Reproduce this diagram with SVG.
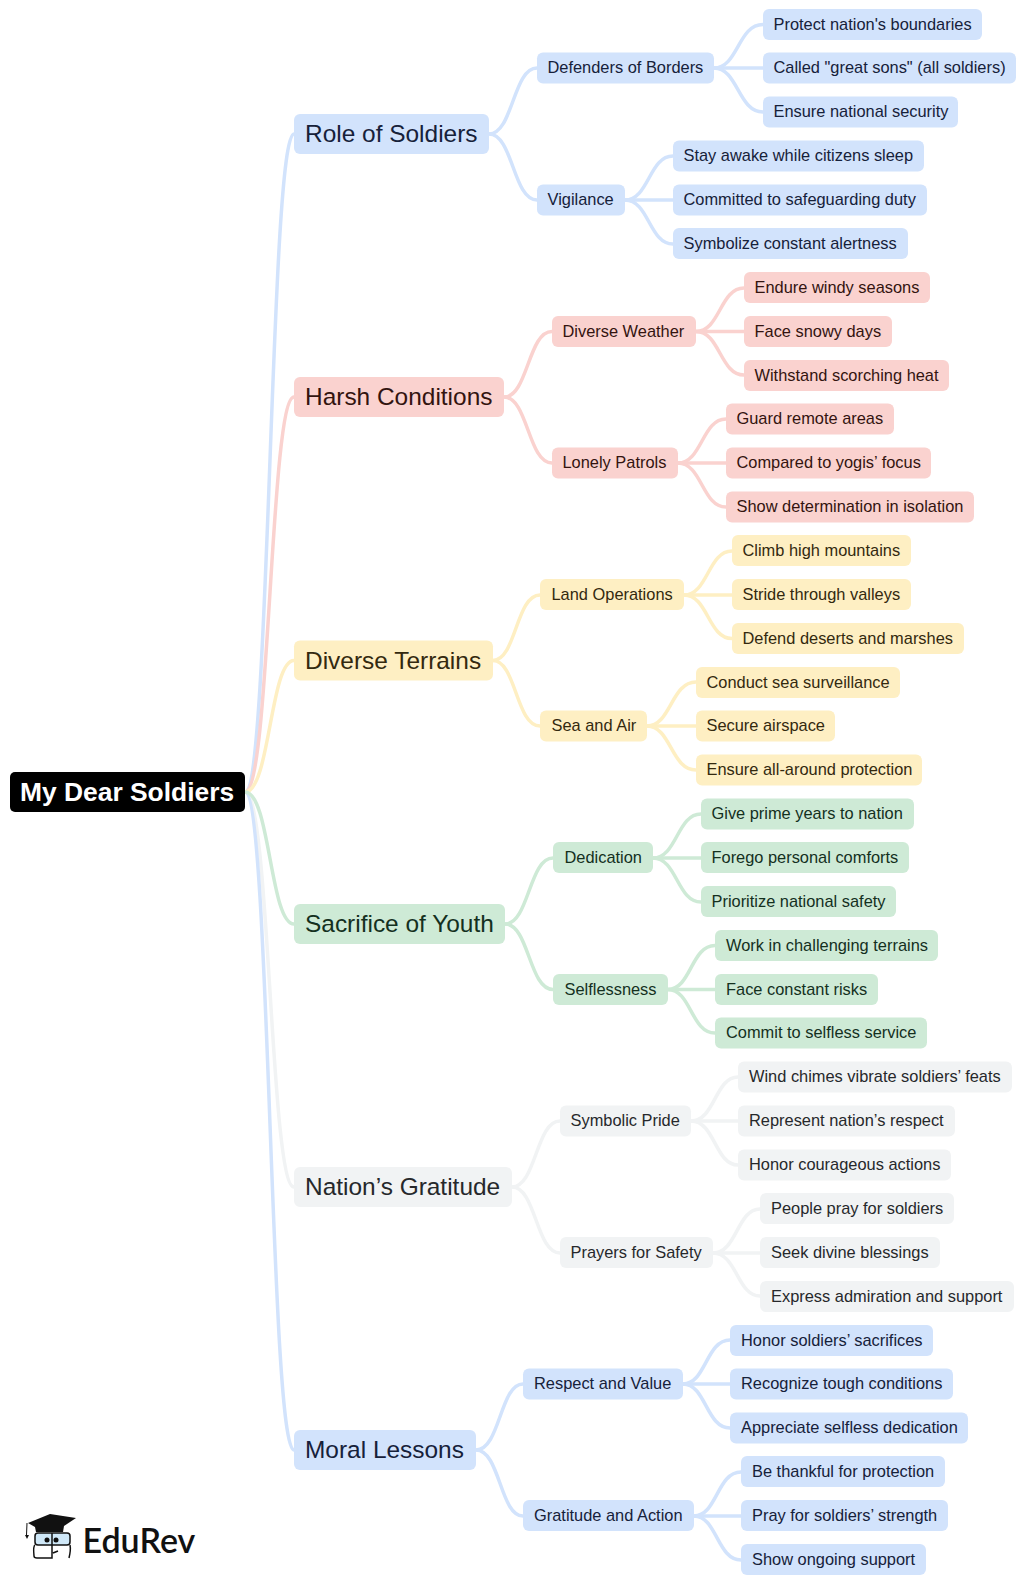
<svg xmlns="http://www.w3.org/2000/svg" width="1024" height="1584" viewBox="0 0 1024 1584">
<style>
text{font-family:"Liberation Sans",Arial,sans-serif}
.c path{fill:none;stroke-width:3.5;stroke-linecap:round}
.l text,.m text{font-size:16.4px;transform:translate(-.5px,-.5px)}
.t text{font-size:24.45px;transform:translateY(-.5px)}
.blue rect{fill:#d2e3fc}.blue text{fill:#16213a}
.red rect{fill:#fad2cf}.red text{fill:#33140f}
.yel rect{fill:#feefc3}.yel text{fill:#33290f}
.grn rect{fill:#ceead6}.grn text{fill:#14301e}
.gry rect{fill:#f1f3f4}.gry text{fill:#26282b}
.sb{stroke:#d2e3fc}.sr{stroke:#fad2cf}.sy{stroke:#feefc3}.sg{stroke:#ceead6}.sa{stroke:#f1f3f4}
</style>
<g id="connectors" class="c">
<g class="sa"><path d="M245 792C270 792 270 1187 294 1187"/><path d="M512 1187C536 1187 536 1121 560 1121"/><path d="M512 1187C536 1187 536 1253 560 1253"/><path d="M691 1121C715 1121 715 1077 738 1077"/><path d="M691 1121H738"/><path d="M691 1121C715 1121 715 1165 738 1165"/><path d="M713 1253C737 1253 737 1209 760 1209"/><path d="M713 1253H760"/><path d="M713 1253C737 1253 737 1296 760 1296"/></g>
<g class="sb"><path d="M245 792C270 792 270 134 294 134"/><path d="M245 792C270 792 270 1450 294 1450"/><path d="M489 134C513 134 513 68 537 68"/><path d="M489 134C513 134 513 200 537 200"/><path d="M714 68C738 68 738 24.500 763 24.500"/><path d="M714 68H763"/><path d="M714 68C738 68 738 112 763 112"/><path d="M625 200C649 200 649 156 673 156"/><path d="M625 200H673"/><path d="M625 200C649 200 649 244 673 244"/><path d="M476 1450C500 1450 500 1384 523 1384"/><path d="M476 1450C500 1450 500 1516 523 1516"/><path d="M683 1384C706 1384 706 1340 730 1340"/><path d="M683 1384H730"/><path d="M683 1384C706 1384 706 1428 730 1428"/><path d="M694 1516C717 1516 717 1472 741 1472"/><path d="M694 1516H741"/><path d="M694 1516C717 1516 717 1560 741 1560"/></g>
<g class="sr"><path d="M245 792C270 792 270 397 294 397"/><path d="M504 397C528 397 528 331.500 552 331.500"/><path d="M504 397C528 397 528 463 552 463"/><path d="M696 331.500C720 331.500 720 288 744 288"/><path d="M696 331.500H744"/><path d="M696 331.500C720 331.500 720 375 744 375"/><path d="M678 463C702 463 702 419 726 419"/><path d="M678 463H726"/><path d="M678 463C702 463 702 507 726 507"/></g>
<g class="sy"><path d="M245 792C270 792 270 660.500 294 660.500"/><path d="M493 660.500C516 660.500 516 595 540 595"/><path d="M493 660.500C516 660.500 516 726 540 726"/><path d="M684 595C708 595 708 551 732 551"/><path d="M684 595H732"/><path d="M684 595C708 595 708 638.500 732 638.500"/><path d="M647 726C671 726 671 682 696 682"/><path d="M647 726H696"/><path d="M647 726C671 726 671 770 696 770"/></g>
<g class="sg"><path d="M245 792C270 792 270 924 294 924"/><path d="M505 924C529 924 529 858 553 858"/><path d="M505 924C529 924 529 989.500 553 989.500"/><path d="M653 858C677 858 677 814 701 814"/><path d="M653 858H701"/><path d="M653 858C677 858 677 902 701 902"/><path d="M668 989.500C691 989.500 691 945.500 715 945.500"/><path d="M668 989.500H715"/><path d="M668 989.500C691 989.500 691 1033 715 1033"/></g>
</g>
<g id="root"><rect x="10" y="772" width="235" height="40" rx="5" fill="#000"/><text x="20" y="801" font-size="26.4" font-weight="700" fill="#fff">My Dear Soldiers</text></g>
<g id="role-of-soldiers" class="t blue"><rect x="294" y="114" width="195" height="40" rx="6"/><text x="305" y="142.500">Role of Soldiers</text></g>
<g id="harsh-conditions" class="t red"><rect x="294" y="377" width="210" height="40" rx="6"/><text x="305" y="405.500">Harsh Conditions</text></g>
<g id="diverse-terrains" class="t yel"><rect x="294" y="640.500" width="199" height="40" rx="6"/><text x="305" y="669">Diverse Terrains</text></g>
<g id="sacrifice-of-youth" class="t grn"><rect x="294" y="904" width="211" height="40" rx="6"/><text x="305" y="932.500">Sacrifice of Youth</text></g>
<g id="nations-gratitude" class="t gry"><rect x="294" y="1167" width="218" height="40" rx="6"/><text x="305" y="1195.500">Nation’s Gratitude</text></g>
<g id="moral-lessons" class="t blue"><rect x="294" y="1430" width="182" height="40" rx="6"/><text x="305" y="1458.500">Moral Lessons</text></g>
<g id="m1" class="m blue"><rect x="537" y="52.500" width="177" height="31" rx="6"/><text x="548" y="73.500">Defenders of Borders</text></g>
<g id="m2" class="m blue"><rect x="537" y="184.500" width="88" height="31" rx="6"/><text x="548" y="205.500">Vigilance</text></g>
<g id="m3" class="m red"><rect x="552" y="316" width="144" height="31" rx="6"/><text x="563" y="337">Diverse Weather</text></g>
<g id="m4" class="m red"><rect x="552" y="447.500" width="126" height="31" rx="6"/><text x="563" y="468.500">Lonely Patrols</text></g>
<g id="m5" class="m yel"><rect x="540" y="579" width="144" height="31" rx="6"/><text x="552" y="600">Land Operations</text></g>
<g id="m6" class="m yel"><rect x="540" y="710.500" width="107" height="31" rx="6"/><text x="552" y="731.500">Sea and Air</text></g>
<g id="m7" class="m grn"><rect x="553" y="842" width="100" height="31" rx="6"/><text x="565" y="863">Dedication</text></g>
<g id="m8" class="m grn"><rect x="553" y="974" width="115" height="31" rx="6"/><text x="565" y="995">Selflessness</text></g>
<g id="m9" class="m gry"><rect x="560" y="1105.500" width="131" height="31" rx="6"/><text x="571" y="1126.500">Symbolic Pride</text></g>
<g id="m10" class="m gry"><rect x="560" y="1237" width="153" height="31" rx="6"/><text x="571" y="1258">Prayers for Safety</text></g>
<g id="m11" class="m blue"><rect x="523" y="1368.500" width="160" height="31" rx="6"/><text x="534.500" y="1389.500">Respect and Value</text></g>
<g id="m12" class="m blue"><rect x="523" y="1500" width="171" height="31" rx="6"/><text x="534.500" y="1521">Gratitude and Action</text></g>
<g id="l1" class="l blue"><rect x="763" y="9" width="219" height="31" rx="6"/><text x="774" y="30">Protect nation's boundaries</text></g>
<g id="l2" class="l blue"><rect x="763" y="52.500" width="253" height="31" rx="6"/><text x="774" y="73.500">Called "great sons" (all soldiers)</text></g>
<g id="l3" class="l blue"><rect x="763" y="96.500" width="195" height="31" rx="6"/><text x="774" y="117.500">Ensure national security</text></g>
<g id="l4" class="l blue"><rect x="673" y="140.500" width="251" height="31" rx="6"/><text x="684" y="161.500">Stay awake while citizens sleep</text></g>
<g id="l5" class="l blue"><rect x="673" y="184.500" width="254" height="31" rx="6"/><text x="684" y="205.500">Committed to safeguarding duty</text></g>
<g id="l6" class="l blue"><rect x="673" y="228" width="235" height="31" rx="6"/><text x="684" y="249">Symbolize constant alertness</text></g>
<g id="l7" class="l red"><rect x="744" y="272" width="186" height="31" rx="6"/><text x="755" y="293">Endure windy seasons</text></g>
<g id="l8" class="l red"><rect x="744" y="316" width="148" height="31" rx="6"/><text x="755" y="337">Face snowy days</text></g>
<g id="l9" class="l red"><rect x="744" y="360" width="205" height="31" rx="6"/><text x="755" y="381">Withstand scorching heat</text></g>
<g id="l10" class="l red"><rect x="726" y="403.500" width="168" height="31" rx="6"/><text x="737" y="424.500">Guard remote areas</text></g>
<g id="l11" class="l red"><rect x="726" y="447.500" width="205" height="31" rx="6"/><text x="737" y="468.500">Compared to yogis’ focus</text></g>
<g id="l12" class="l red"><rect x="726" y="491.500" width="248" height="31" rx="6"/><text x="737" y="512.500">Show determination in isolation</text></g>
<g id="l13" class="l yel"><rect x="732" y="535" width="179" height="31" rx="6"/><text x="743" y="556">Climb high mountains</text></g>
<g id="l14" class="l yel"><rect x="732" y="579" width="179" height="31" rx="6"/><text x="743" y="600">Stride through valleys</text></g>
<g id="l15" class="l yel"><rect x="732" y="623" width="232" height="31" rx="6"/><text x="743" y="644">Defend deserts and marshes</text></g>
<g id="l16" class="l yel"><rect x="696" y="667" width="204" height="31" rx="6"/><text x="707" y="688">Conduct sea surveillance</text></g>
<g id="l17" class="l yel"><rect x="696" y="710.500" width="139" height="31" rx="6"/><text x="707" y="731.500">Secure airspace</text></g>
<g id="l18" class="l yel"><rect x="696" y="754.500" width="226" height="31" rx="6"/><text x="707" y="775.500">Ensure all-around protection</text></g>
<g id="l19" class="l grn"><rect x="701" y="798.500" width="213" height="31" rx="6"/><text x="712" y="819.500">Give prime years to nation</text></g>
<g id="l20" class="l grn"><rect x="701" y="842" width="208" height="31" rx="6"/><text x="712" y="863">Forego personal comforts</text></g>
<g id="l21" class="l grn"><rect x="701" y="886" width="195" height="31" rx="6"/><text x="712" y="907">Prioritize national safety</text></g>
<g id="l22" class="l grn"><rect x="715" y="930" width="223" height="31" rx="6"/><text x="726.500" y="951">Work in challenging terrains</text></g>
<g id="l23" class="l grn"><rect x="715" y="974" width="163" height="31" rx="6"/><text x="726.500" y="995">Face constant risks</text></g>
<g id="l24" class="l grn"><rect x="715" y="1017.500" width="212" height="31" rx="6"/><text x="726.500" y="1038.500">Commit to selfless service</text></g>
<g id="l25" class="l gry"><rect x="738" y="1061.500" width="274" height="31" rx="6"/><text x="749.500" y="1082.500">Wind chimes vibrate soldiers’ feats</text></g>
<g id="l26" class="l gry"><rect x="738" y="1105.500" width="217" height="31" rx="6"/><text x="749.500" y="1126.500">Represent nation’s respect</text></g>
<g id="l27" class="l gry"><rect x="738" y="1149.500" width="213" height="31" rx="6"/><text x="749.500" y="1170.500">Honor courageous actions</text></g>
<g id="l28" class="l gry"><rect x="760" y="1193" width="194" height="31" rx="6"/><text x="771.500" y="1214">People pray for soldiers</text></g>
<g id="l29" class="l gry"><rect x="760" y="1237" width="180" height="31" rx="6"/><text x="771.500" y="1258">Seek divine blessings</text></g>
<g id="l30" class="l gry"><rect x="760" y="1281" width="254" height="31" rx="6"/><text x="771.500" y="1302">Express admiration and support</text></g>
<g id="l31" class="l blue"><rect x="730" y="1325" width="203" height="31" rx="6"/><text x="741.500" y="1346">Honor soldiers’ sacrifices</text></g>
<g id="l32" class="l blue"><rect x="730" y="1368.500" width="223" height="31" rx="6"/><text x="741.500" y="1389.500">Recognize tough conditions</text></g>
<g id="l33" class="l blue"><rect x="730" y="1412.500" width="238" height="31" rx="6"/><text x="741.500" y="1433.500">Appreciate selfless dedication</text></g>
<g id="l34" class="l blue"><rect x="741" y="1456" width="204" height="31" rx="6"/><text x="752.500" y="1477">Be thankful for protection</text></g>
<g id="l35" class="l blue"><rect x="741" y="1500" width="207" height="31" rx="6"/><text x="752.500" y="1521">Pray for soldiers’ strength</text></g>
<g id="l36" class="l blue"><rect x="741" y="1544" width="185" height="31" rx="6"/><text x="752.500" y="1565">Show ongoing support</text></g>
<g id="logo">
<rect x="35" y="1533" width="35" height="12" rx="3" fill="#cfe8f8" stroke="#111" stroke-width="1.500"/>
<path d="M35 1545Q33 1546 34 1556Q34 1558 37 1558H52V1533M70 1545Q71 1550 69 1558M53 1553L58 1551" fill="none" stroke="#111" stroke-width="1.500"/>
<circle cx="47" cy="1540" r="2.500" fill="#111"/><circle cx="56" cy="1540" r="2.500" fill="#111"/>
<path d="M28 1523L50 1514L76 1518L64 1526L63 1532H36L35 1527Z" fill="#111"/>
<path d="M27 1523L26.500 1535" fill="none" stroke="#111" stroke-width="1"/><path d="M25 1535H29L27 1539Z" fill="#111"/>
<text x="82.500" y="1553" font-size="34" font-weight="600" fill="#111" style="font-family:Lato,sans-serif">EduRev</text>
</g>
</svg>
